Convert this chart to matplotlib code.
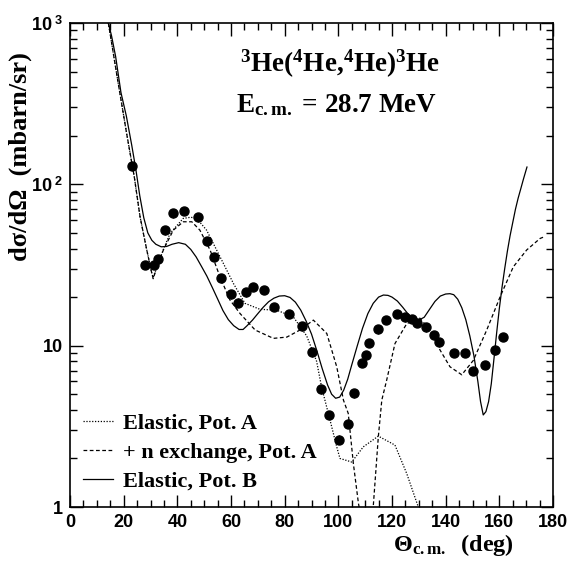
import matplotlib
matplotlib.use('Agg')
import matplotlib.pyplot as plt
from matplotlib.ticker import FixedLocator, MultipleLocator, NullFormatter

plt.rcParams['mathtext.fontset'] = 'custom'
plt.rcParams['mathtext.rm'] = 'Liberation Serif:bold'
plt.rcParams['mathtext.it'] = 'Liberation Serif:bold'
plt.rcParams['mathtext.sf'] = 'Liberation Sans:bold'

# measured cross sections
theta_data = [23.2, 28.1, 31.4, 32.7, 35.5, 38.4, 42.6, 47.7, 50.9, 53.8,
              56.3, 60.0, 62.5, 65.5, 68.2, 72.2, 75.9, 81.5, 86.3, 90.1,
              93.7, 96.7, 100.4, 103.6, 105.9, 108.8, 110.2, 111.6, 114.9,
              117.8, 121.9, 124.9, 127.6, 129.4, 132.7, 135.5, 137.4, 143.0,
              147.3, 150.1, 154.8, 158.4, 161.4]
xs_data = [130, 31.6, 31.6, 34.6, 51.8, 66, 68.5, 62.4, 44.5, 35.6,
           26.1, 20.8, 18.5, 21.4, 23.2, 22.1, 17.4, 15.8, 13.2, 9.1,
           5.36, 3.72, 2.62, 3.27, 5.06, 7.8, 8.7, 10.4, 12.6,
           14.5, 15.7, 15.0, 14.6, 13.9, 13.0, 11.7, 10.5, 9.0,
           9.0, 7.0, 7.6, 9.35, 11.3]

# elastic, pot. A (dotted)
theta_a = [14.3, 18.0, 21.1, 24.0, 26.1, 28.5, 30.4, 31.0, 32.5, 34.8,
           37.3, 42.2, 45.0, 47.2, 50.9, 55.9, 60.9, 65.2, 70.8, 77.0,
           83.2, 88.2, 91.9, 93.8, 96.9, 99.4, 100.6, 105.0, 109.3,
           114.9, 121.1, 125.5, 129.8]
xs_a = [1000, 420, 207, 110, 63, 40, 28.5, 26.5, 31, 39.5,
        49.7, 61.5, 62.5, 61.5, 52, 35.6, 24.3, 18.3, 16.8, 16.6,
        15.1, 11.5, 8.0, 5.5, 3.46, 2.36, 2.0, 1.9, 2.36,
        2.75, 2.42, 1.61, 1.0]

# + n exchange, pot. A (dashed)
theta_b = [14.3, 18.0, 21.1, 24.0, 26.1, 28.5, 30.4, 31.0, 32.5, 34.8,
           38.5, 42.2, 45.4, 48.4, 52.2, 55.9, 59.6, 63.4, 69.0, 75.8,
           80.8, 85.7, 90.7, 95.7, 99.4, 101.9, 103.7, 105.6, 107.5,
           108.3, 112.3, 113.0, 114.9, 116.2, 118.0, 121.1, 125.5, 130.4,
           134.2, 137.9, 141.6, 146.0, 150.3, 155.3, 160.3, 165.2, 170.2,
           175.2, 177.0]
xs_b = [1000, 420, 207, 110, 63, 40, 28.5, 26.0, 31, 39.2,
        52, 58.6, 58.6, 52, 39.2, 26.7, 19.2, 15.8, 12.5, 11.1,
        11.3, 12.5, 14.4, 11.9, 7.4, 4.6, 3.8, 1.86, 1.05,
        0.9, 0.9, 1.0, 2.72, 4.6, 6.1, 10.3, 13.7, 14.8,
        12.5, 9.4, 7.4, 6.6, 8.1, 12.5, 20.1, 30.8, 39.2,
        46.2, 47.5]

# elastic, pot. B (solid)
theta_c = [14.3, 15.5, 17.0, 19.0, 21.0, 23.0, 24.5, 26.0, 27.5, 29.0,
           30.5, 32.0, 34.0, 36.0, 38.0, 40.5, 43.0, 45.0, 47.0, 49.0,
           51.0, 53.0, 55.0, 57.0, 59.0, 61.0, 63.0, 64.5, 66.0, 68.0,
           70.0, 72.0, 74.0, 76.0, 78.0, 80.0, 82.0, 84.0, 86.0, 88.0,
           90.0, 92.0, 94.0, 96.0, 97.5, 99.0, 100.5, 102.0, 103.5, 105.0,
           107.0, 109.0, 111.0, 113.0, 115.0, 116.8, 118.5, 120.0, 122.0,
           124.0, 126.0, 128.0, 130.0, 132.0, 134.0, 136.0, 138.0, 140.0,
           141.6, 143.0, 144.5, 146.0, 147.5, 149.0, 150.5, 152.0, 153.0,
           154.0, 155.0, 156.0, 157.0, 158.0, 159.0, 160.0, 161.0, 162.0,
           163.0, 164.0, 165.0, 166.0, 167.0, 168.0, 169.0, 170.3]
xs_c = [1000, 830, 620, 370, 265, 175, 125, 85, 62, 50,
        45, 42.5, 41, 41.2, 42.5, 43.5, 42.5, 39.5, 35.5, 31,
        27, 23, 19.5, 16.5, 14.5, 13.3, 12.6, 12.6, 13.3, 14.4,
        15.8, 17.3, 18.7, 19.7, 20.3, 20.4, 19.9, 18.6, 16.6, 14.2,
        11.8, 9.3, 7.2, 5.7, 5.0, 4.72, 4.8, 5.3, 6.2, 7.6,
        9.9, 12.8, 15.8, 18.3, 20.0, 20.6, 20.5, 20.0, 18.9,
        17.3, 15.7, 14.7, 14.4, 15.0, 16.8, 18.8, 20.3, 20.9,
        21.0, 20.7, 19.4, 17.2, 14.5, 11.5, 8.7, 6.0, 4.5,
        3.72, 3.9, 4.5, 5.8, 8.3, 12, 17, 23, 30,
        38.5, 48, 58, 70, 82, 94, 108, 128]

fig = plt.figure(figsize=(5.72, 5.62), dpi=100)
ax = fig.add_axes([70 / 572, 1 - 507 / 562, 483 / 572, 484 / 562])

ax.plot(theta_a, xs_a, color='black', lw=0.9, ls=(0, (1, 1.3)),
        label='Elastic, Pot. A')
ax.plot(theta_b, xs_b, color='black', lw=0.9, ls=(0, (3, 2)),
        label='+ n exchange, Pot. A')
ax.plot(theta_c, xs_c, color='black', lw=0.9, ls='-',
        label='Elastic, Pot. B')
xs_err = [0.06 * v for v in xs_data]
ax.errorbar(theta_data, xs_data, yerr=xs_err, fmt='o', color='black',
            ms=6.5, elinewidth=0.8, capsize=0)

ax.set_xlim(0, 180)
ax.set_yscale('log')
ax.set_ylim(1, 1000)

ax.xaxis.set_major_locator(MultipleLocator(20))
ax.xaxis.set_minor_locator(MultipleLocator(5))
ax.yaxis.set_major_locator(FixedLocator([1, 10, 100, 1000]))
ax.yaxis.set_minor_locator(FixedLocator(
    [m * d for d in [1, 10, 100] for m in range(2, 10)]))
ax.yaxis.set_minor_formatter(NullFormatter())
ax.set_yticklabels(['1', '10', r'10$^{\mathsf{\ 2}}$', r'10$^{\mathsf{\ 3}}$'])
ax.tick_params(which='both', direction='in', top=True, right=True,
               width=1.0, labelsize=13)
ax.tick_params(which='major', length=9, pad=5)
ax.tick_params(which='minor', length=5)
for lab in ax.get_xticklabels() + ax.get_yticklabels():
    lab.set_fontfamily('Liberation Sans')
    lab.set_fontweight('bold')
for sp in ax.spines.values():
    sp.set_linewidth(1.2)

ax.set_ylabel('dσ/dΩ  (mbarn/sr)', fontfamily='Liberation Serif',
              fontweight='bold', fontsize=19)
ax.yaxis.set_label_coords(-0.078, 0.725)
ax.set_xlabel(r'Θ$_{\rm c.m.}$  (deg)', fontfamily='Liberation Serif',
              fontweight='bold', fontsize=17.5)
ax.xaxis.set_label_coords(0.795, -0.052)

ax.text(0.766, 0.899, r'$^3$He($^4$He,$^4$He)$^3$He', transform=ax.transAxes,
        fontfamily='Liberation Serif', fontweight='bold', fontsize=19.5,
        ha='right', va='baseline')
ax.text(0.760, 0.816, r'E$_{\rm c.m.}$ = 28.7 MeV', transform=ax.transAxes,
        fontfamily='Liberation Serif', fontweight='bold', fontsize=19.5,
        ha='right', va='baseline')

leg = ax.legend(loc='lower left', bbox_to_anchor=(13 / 483, 15 / 484),
                frameon=False, borderpad=0, borderaxespad=0,
                handlelength=1.35, handletextpad=0.45, labelspacing=0.38,
                prop={'family': 'Liberation Serif', 'weight': 'bold',
                      'size': 16})

fig.savefig('out.png', dpi=100)
